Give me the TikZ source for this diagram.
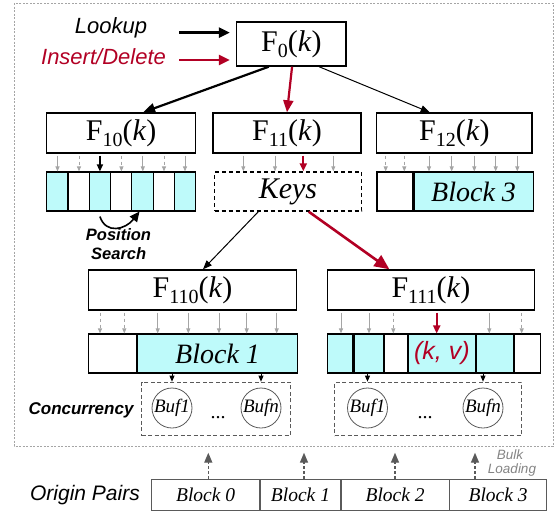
\documentclass[tikz,border=0pt]{standalone}
\usepackage{fontspec}
\setmainfont{Liberation Serif}
\setsansfont{Liberation Sans}
\usetikzlibrary{arrows.meta,calc}
\definecolor{cy}{RGB}{190,250,250}
\definecolor{rd}{RGB}{178,0,36}
\definecolor{lg}{RGB}{165,165,165}
\definecolor{dg}{RGB}{90,90,90}
\newcommand\Fk[1]{F\raisebox{-0.22em}{\fontsize{20}{20}\selectfont #1}(\textit{k})}
\tikzset{
  fbox/.style={draw, line width=1.4pt, inner sep=0pt, minimum height=40pt, font=\fontsize{30}{30}\selectfont},
  cell/.style={draw, line width=1.1pt, inner sep=0pt, minimum height=39pt, font=\itshape\fontsize{28}{28}\selectfont},
  ocell/.style={draw=dg, line width=0.9pt, inner sep=0pt, minimum height=30.7pt, font=\itshape\fontsize{19.5}{19.5}\selectfont},
  garr/.style={lg, line width=0.9pt, -{Triangle[length=5pt,width=4pt]}, shorten <=2pt},
  bigblack/.style={black, line width=2.2pt, -{Triangle[length=12pt,width=10pt]}},
  bigred/.style={rd, line width=2.2pt, -{Triangle[length=12pt,width=10pt]}},
  thinblack/.style={black, line width=1pt, -{Triangle[length=9pt,width=7pt]}},
  bufbox/.style={draw=dg, dash pattern=on 4pt off 2.5pt, line width=0.8pt, inner sep=0pt},
  bufc/.style={draw=dg, circle, line width=0.8pt, minimum size=40pt, inner sep=0pt, font=\itshape\fontsize{19}{19}\selectfont},
  lbl/.style={font=\sffamily\itshape\fontsize{22}{22}\selectfont},
  blbl/.style={font=\sffamily\bfseries\itshape\fontsize{16.5}{16.5}\selectfont},
  bulk/.style={dg, line width=1.4pt, dash pattern=on 3pt off 2pt, -{Triangle[length=10pt,width=8pt]}},
  bulktxt/.style={font=\sffamily\itshape\fontsize{13.5}{13.5}\selectfont, text=lg!80!black, inner sep=0pt}
}
\begin{document}
\begin{tikzpicture}[x=1pt,y=-1pt]
\useasboundingbox (0,0) rectangle (555,512);
% outer frame
\draw[lg, line width=0.7pt, dash pattern=on 2pt off 1.5pt] (14,3) rectangle (553,446);
% top
\node[fbox, minimum width=109.5pt, minimum height=44pt] (f0) at (291.3,44) {\Fk{0}};
\node[lbl] (lk) at (111,28) {Lookup};
\node[lbl, text=rd] (ins) at (103.5,57) {Insert/Delete};
\coordinate (lkA) at (179,32.6);
\coordinate (inA) at (179,60);
\draw[black, line width=2.6pt, -{Triangle[length=11pt,width=10pt]}, shorten >=6pt] (lkA) -- (lkA -| f0.west);
\draw[rd, line width=2.6pt, -{Triangle[length=11pt,width=10pt]}, shorten >=6pt] (inA) -- (inA -| f0.west);
% level 1
\node[fbox, minimum width=149pt] (f10) at (121.2,133) {\Fk{10}};
\node[fbox, minimum width=147.7pt] (f11) at (287,133) {\Fk{11}};
\node[fbox, minimum width=155.3pt] (f12) at (454.3,133) {\Fk{12}};
\draw[bigblack] ($(f0.south west)!0.297!(f0.south east)$) -- ($(f10.north west)!0.646!(f10.north east)$);
\draw[bigred] ($(f0.south west)!0.507!(f0.south east)$) -- ($(f11.north west)!0.5!(f11.north east)$);
\draw[thinblack] ($(f0.south west)!0.75!(f0.south east)$) -- ($(f12.north west)!0.343!(f12.north east)$);
% array under F10
\foreach \i/\f in {0/cy,1/white,2/cy,3/white,4/cy,5/white,6/cy}
  \node[cell, fill=\f, minimum width=21.29pt] (a\i) at ({46.7+21.29*(\i+0.5)},191.5) {};
\foreach \x/\s in {57.5/solid,79/dashed,121.4/dashed,142.8/solid,164/dashed,185/solid}
  \draw[garr,\s] (\x,0 |- f10.south) -- (\x,0 |- a0.north);
\draw[black, line width=1.5pt, -{Triangle[length=7pt,width=6pt]}, shorten <=2pt] (a2.north |- f10.south) -- (a2.north);
\draw[black, line width=1.6pt, -{Triangle[length=10pt,width=9pt]}] ($(a2.south)+(0,5)$) .. controls +(6,18) and +(-14,18) .. ($(a4.south)+(-3,0)$);
\node[blbl] (ps1) at (118.5,234.5) {Position};
\node[blbl] (ps2) at (118.7,254) {Search};
% Keys
\node[draw, line width=1.4pt, dash pattern=on 4pt off 3pt, minimum width=147pt, minimum height=39pt, inner sep=0pt, font=\itshape\fontsize{30}{30}\selectfont] (keys) at (288,191.5) {Keys};
\foreach \x in {243.3,275,333.3}
  \draw[garr] (\x,0 |- f11.south) -- (\x,0 |- keys.north);
\draw[rd, line width=2pt, -{Triangle[length=8pt,width=7pt]}, shorten <=2pt] (303.3,0 |- f11.south) -- (303.3,0 |- keys.north);
% Block 3 top right
\node[cell, fill=white, minimum width=36pt] (b3w) at (395,191.5) {};
\node[cell, fill=cy, minimum width=119pt, anchor=west] (b3c) at (b3w.east) {Block 3};
\foreach \x/\s in {385.7/dashed,404.3/dashed,429/solid,451.7/solid,474.3/solid,495.7/solid,517.3/solid}
  \draw[garr,\s] (\x,0 |- f12.south) -- (\x,0 |- b3w.north);
% level 2
\node[fbox, minimum width=208.4pt] (f110) at (192.5,290) {\Fk{110}};
\node[fbox, minimum width=206.6pt] (f111) at (431,290) {\Fk{111}};
\draw[thinblack] ($(keys.south west)!0.30!(keys.south east)$) -- ($(f110.north west)!0.55!(f110.north east)$);
\draw[rd, line width=2.6pt, -{Triangle[length=15pt,width=13pt]}] ($(keys.south west)!0.64!(keys.south east)$) -- ($(f111.north west)!0.30!(f111.north east)$);
% Block 1
\node[cell, fill=white, minimum width=48pt] (b1w) at (112.3,353.5) {};
\node[cell, fill=cy, minimum width=160.4pt, anchor=west] (b1c) at (b1w.east) {Block 1};
\foreach \x/\s in {100/dashed,124.3/dashed,157.7/solid,188.3/solid,219/solid,246.7/solid,276.7/solid}
  \draw[garr,\s] (\x,0 |- f110.south) -- (\x,0 |- b1w.north);
% F111 array
\node[cell, fill=cy, minimum width=25.6pt, anchor=west] (c0) at (326.7,353.5) {};
\node[cell, fill=cy, minimum width=29.4pt, anchor=west] (c1) at (c0.east) {};
\node[cell, fill=white, minimum width=22.6pt, anchor=west] (c2) at (c1.east) {};
\node[cell, fill=cy, minimum width=67.4pt, anchor=west, text=rd, font=\sffamily\itshape\fontsize{25}{25}\selectfont] (c3) at (c2.east) {(k, v)};
\node[cell, fill=cy, minimum width=36.6pt, anchor=west] (c4) at (c3.east) {};
\node[cell, fill=white, minimum width=26pt, anchor=west] (c5) at (c4.east) {};
\foreach \x/\s in {341/solid,369/solid,393.3/dashed,489.3/solid,521.7/dashed}
  \draw[garr,\s] (\x,0 |- f111.south) -- (\x,0 |- c0.north);
\draw[rd, line width=2pt, -{Triangle[length=8pt,width=7pt]}, shorten <=2pt] (436.7,0 |- f111.south) -- (436.7,0 |- c3.north);
% buffers
\node[bufbox, minimum width=148.9pt, minimum height=53.5pt] (bl) at (216,408.8) {};
\node[bufbox, minimum width=187pt, minimum height=53.5pt] (br) at (428,408.8) {};
\node[bufc] (bl1) at (172,408) {Buf1};
\node[bufc] (bln) at (261,408) {Bufn};
\node[bufc] (br1) at (367.5,408) {Buf1};
\node[bufc] (brn) at (483,408) {Bufn};
\node[font=\fontsize{20}{20}\selectfont] (dl) at (218,418) {...};
\node[font=\fontsize{20}{20}\selectfont] (dr) at (425,418) {...};
\foreach \n/\t in {b1c/bl1,b1c/bln}
  \draw[black, line width=0.8pt, -{Triangle[length=6pt,width=5pt]}] (\t.north |- \n.south) -- (\t.north |- bl.north);
\foreach \n/\t in {c1/br1,c4/brn}
  \draw[black, line width=0.8pt, -{Triangle[length=6pt,width=5pt]}] (\t.north |- \n.south) -- (\t.north |- br.north);
\node[blbl, anchor=east, font=\sffamily\bfseries\itshape\fontsize{17}{17}\selectfont] (conc) at (137,410) {Concurrency};
% origin pairs
\node[ocell, minimum width=108.3pt, anchor=west] (o0) at (151,494.7) {Block 0};
\node[ocell, minimum width=79.7pt, anchor=west] (o1) at (o0.east) {Block 1};
\node[ocell, minimum width=107.7pt, anchor=west] (o2) at (o1.east) {Block 2};
\node[ocell, minimum width=96.6pt, anchor=west] (o3) at (o2.east) {Block 3};
\node[lbl, font=\sffamily\itshape\fontsize{21}{21}\selectfont] (op) at (85,495) {Origin Pairs};
\coordinate (top) at (0,452.7);
\draw[bulk] (208.3,0 |- o0.north) -- (208.3,0 |- top);
\draw[bulk] (304,0 |- o1.north) -- (304,0 |- top);
\draw[bulk] (395,0 |- o2.north) -- (395,0 |- top);
\draw[bulk] (475,0 |- o3.north) -- (475,0 |- top);
\node[bulktxt] (bk1) at (510,455) {Bulk};
\node[bulktxt] (bk2) at (512,470.5) {Loading};
\end{tikzpicture}
\end{document}
